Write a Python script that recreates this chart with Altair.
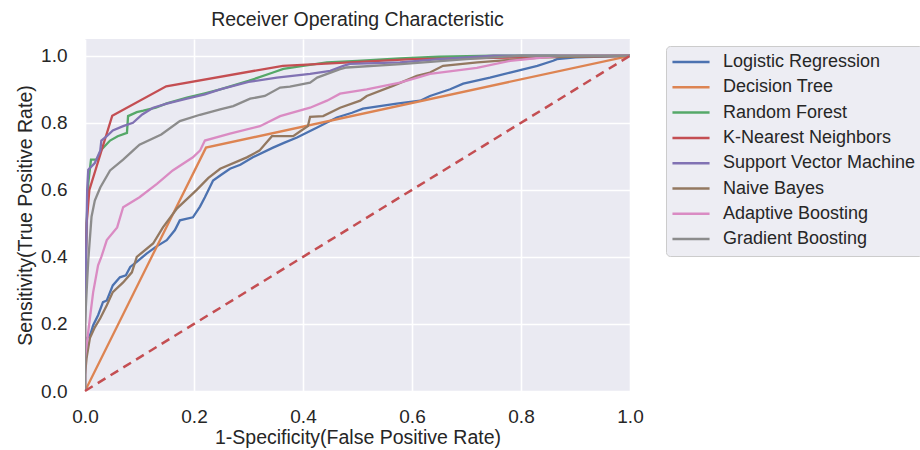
import altair as alt
import pandas as pd

models = ["Logistic Regression", "Decision Tree", "Random Forest", "K-Nearest Neighbors",
          "Support Vector Machine", "Naive Bayes", "Adaptive Boosting", "Gradient Boosting"]
colors = ["#4C72B0", "#DD8452", "#55A868", "#C44E52", "#8172B3", "#937860", "#DA8BC3", "#8C8C8C"]

lr_fpr = [0, 0, 0.002, 0.004, 0.01, 0.015, 0.024, 0.033, 0.04, 0.051, 0.064, 0.075, 0.083, 0.095, 0.113,
          0.13, 0.15, 0.165, 0.174, 0.198, 0.211, 0.22, 0.235, 0.25, 0.266, 0.285, 0.308, 0.345, 0.365,
          0.389, 0.426, 0.462, 0.49, 0.51, 0.572, 0.615, 0.633, 0.67, 0.694, 0.743, 0.78, 0.83, 0.859,
          0.866, 0.9, 1]
lr_tpr = [0, 0.09, 0.10, 0.158, 0.17, 0.196, 0.226, 0.265, 0.27, 0.315, 0.339, 0.345, 0.37, 0.385, 0.41,
          0.43, 0.45, 0.48, 0.509, 0.518, 0.55, 0.578, 0.628, 0.645, 0.663, 0.675, 0.697, 0.726, 0.74,
          0.756, 0.786, 0.816, 0.83, 0.842, 0.857, 0.866, 0.88, 0.9, 0.917, 0.935, 0.95, 0.97, 0.985,
          0.99, 0.995, 1]

dt_fpr = [0, 0.222, 1]
dt_tpr = [0, 0.726, 1]

rf_fpr = [0, 0, 0.003, 0.006, 0.011, 0.022, 0.03, 0.046, 0.06, 0.077, 0.079, 0.095, 0.107, 0.13, 0.15,
          0.187, 0.22, 0.248, 0.3, 0.345, 0.364, 0.4, 0.444, 0.5, 0.578, 0.65, 0.75, 1]
rf_tpr = [0, 0.3, 0.5, 0.62, 0.69, 0.69, 0.72, 0.747, 0.76, 0.77, 0.82, 0.832, 0.836, 0.845, 0.858,
          0.875, 0.888, 0.9, 0.925, 0.95, 0.961, 0.97, 0.98, 0.985, 0.992, 0.997, 1.0, 1]

knn_fpr = [0, 0, 0.003, 0.008, 0.05, 0.149, 0.363, 0.6, 1]
knn_tpr = [0, 0.25, 0.5, 0.6, 0.821, 0.909, 0.97, 0.99, 1]

svm_fpr = [0, 0, 0.002, 0.004, 0.006, 0.018, 0.028, 0.03, 0.04, 0.051, 0.07, 0.088, 0.105, 0.125, 0.15,
           0.187, 0.22, 0.248, 0.3, 0.352, 0.413, 0.45, 0.474, 0.486, 0.578, 0.65, 0.75, 1]
svm_tpr = [0, 0.2, 0.4, 0.6, 0.66, 0.68, 0.717, 0.747, 0.76, 0.777, 0.79, 0.80, 0.825, 0.845, 0.857,
           0.872, 0.885, 0.9, 0.922, 0.935, 0.946, 0.955, 0.97, 0.976, 0.98, 0.99, 1.0, 1]

nb_fpr = [0, 0, 0.003, 0.009, 0.018, 0.028, 0.04, 0.051, 0.07, 0.086, 0.095, 0.125, 0.143, 0.169, 0.205,
          0.226, 0.248, 0.297, 0.32, 0.343, 0.382, 0.395, 0.409, 0.413, 0.437, 0.468, 0.505, 0.517, 0.565,
          0.609, 0.633, 0.657, 0.72, 0.84, 1]
nb_tpr = [0, 0.048, 0.1, 0.158, 0.19, 0.217, 0.256, 0.295, 0.324, 0.354, 0.4, 0.44, 0.488, 0.545, 0.6,
          0.635, 0.663, 0.697, 0.717, 0.76, 0.76, 0.775, 0.79, 0.818, 0.82, 0.845, 0.866, 0.88, 0.91,
          0.94, 0.95, 0.97, 0.98, 0.995, 1]

ab_fpr = [0, 0, 0.003, 0.009, 0.015, 0.024, 0.03, 0.04, 0.059, 0.07, 0.1, 0.132, 0.161, 0.198, 0.211,
          0.22, 0.266, 0.321, 0.358, 0.413, 0.444, 0.468, 0.517, 0.578, 0.61, 0.633, 0.719, 0.78, 0.87, 1]
ab_tpr = [0, 0.1, 0.137, 0.217, 0.295, 0.375, 0.4, 0.45, 0.488, 0.548, 0.578, 0.618, 0.658, 0.697, 0.717,
          0.747, 0.768, 0.79, 0.82, 0.845, 0.866, 0.887, 0.9, 0.92, 0.935, 0.946, 0.964, 0.985, 1.0, 1]

gb_fpr = [0, 0, 0.004, 0.006, 0.012, 0.018, 0.028, 0.046, 0.07, 0.09, 0.1, 0.14, 0.174, 0.211, 0.248,
          0.272, 0.303, 0.33, 0.358, 0.376, 0.413, 0.426, 0.468, 0.48, 0.58, 0.7, 0.8, 1]
gb_tpr = [0, 0.2, 0.33, 0.39, 0.52, 0.568, 0.607, 0.658, 0.69, 0.72, 0.735, 0.765, 0.805, 0.824, 0.84,
          0.85, 0.872, 0.88, 0.905, 0.908, 0.92, 0.935, 0.96, 0.965, 0.975, 0.99, 1.0, 1]

diag_x = [0, 1]
diag_y = [0, 1]

series = [(lr_fpr, lr_tpr), (dt_fpr, dt_tpr), (rf_fpr, rf_tpr), (knn_fpr, knn_tpr),
          (svm_fpr, svm_tpr), (nb_fpr, nb_tpr), (ab_fpr, ab_tpr), (gb_fpr, gb_tpr)]

rows = []
for name, (fx, ty) in zip(models, series):
    for i, (a, b) in enumerate(zip(fx, ty)):
        rows.append({"model": name, "fpr": a, "tpr": b, "idx": i})
df = pd.DataFrame(rows)
diag = pd.DataFrame({"fpr": diag_x, "tpr": diag_y})

FONT = "Liberation Sans"
TXT = "#262626"

xs = alt.Scale(domain=[0, 1], nice=False, zero=False)
ys = alt.Scale(domain=[0, 1.05], nice=False, zero=False)

x_axis = alt.Axis(title="1-Specificity(False Positive Rate)", values=[0, 0.2, 0.4, 0.6, 0.8, 1.0],
                  format=".1f", labelPadding=16, labelFlush=False,
                  titleBaseline="alphabetic", titleY=52, titleX=272.5, titleAnchor="middle")
y_axis = alt.Axis(title="Sensitivity(True Positive Rate)", values=[0, 0.2, 0.4, 0.6, 0.8, 1.0],
                  format=".1f", labelPadding=18, labelFlush=False,
                  titleBaseline="middle", titleX=-60, titleY=176, titleAngle=-90)

lines = alt.Chart(df).mark_line(strokeWidth=2.3, clip=True).encode(
    x=alt.X("fpr:Q", scale=xs, axis=x_axis),
    y=alt.Y("tpr:Q", scale=ys, axis=y_axis),
    color=alt.Color("model:N", scale=alt.Scale(domain=models, range=colors),
                    sort=models,
                    legend=alt.Legend(orient="none", legendX=581, legendY=7, title=None,
                                      symbolType="M-4,0H4", symbolSize=86, symbolStrokeWidth=2.5,
                                      symbolOffset=9,
                                      labelFontSize=18, labelFont=FONT, labelColor=TXT,
                                      padding=7, fillColor="#EDEDF3", strokeColor="#CCCCCC",
                                      cornerRadius=4, rowPadding=7.3, labelOffset=23,
                                      labelLimit=400)),
    detail="model:N",
    order="idx:Q",
)

dashed = alt.Chart(diag).mark_line(strokeWidth=2.5, strokeDash=[9, 6], color="#C44E52").encode(
    x=alt.X("fpr:Q", scale=xs),
    y=alt.Y("tpr:Q", scale=ys),
)

chart = alt.layer(lines, dashed).properties(
    width=545, height=352,
    background="white",
    title=alt.TitleParams("Receiver Operating Characteristic", fontSize=19.5, font=FONT,
                          color=TXT, fontWeight="normal", offset=9),
    autosize="none",
    padding={"left": 85, "top": 39, "right": 290, "bottom": 59},
).configure_view(
    fill="#EAEAF2", stroke=None
).configure_axis(
    domain=False, ticks=False, tickSize=0, gridColor="white", gridWidth=1.6,
    labelFont=FONT, labelFontSize=19, labelColor=TXT,
    titleFont=FONT, titleFontSize=19.5, titleColor=TXT, titleFontWeight="normal",
)

chart.save("out.html", embed_options={"renderer": "svg", "actions": False})
